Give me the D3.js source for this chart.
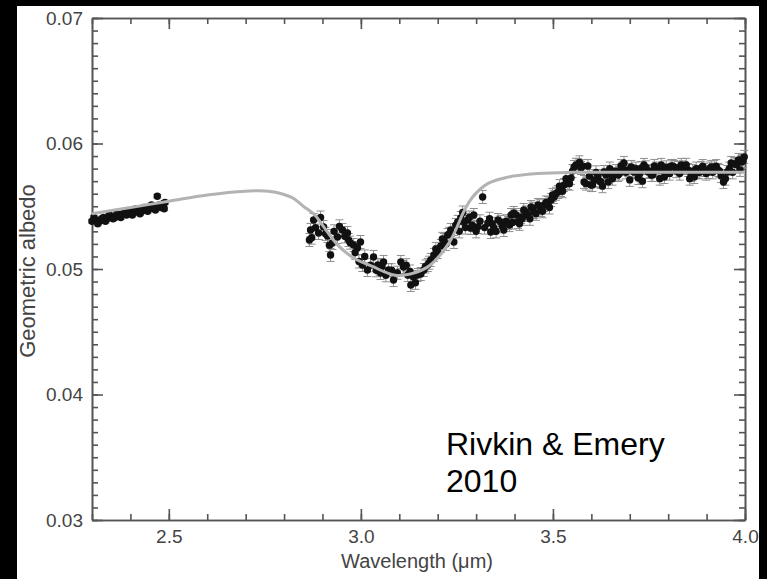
<!DOCTYPE html>
<html><head><meta charset="utf-8">
<script src="https://cdn.jsdelivr.net/npm/d3@7"></script>
<style>html,body{margin:0;padding:0;background:#000;} svg{display:block;}</style>
</head><body>
<svg id="c" width="767" height="579"></svg>
<script>
// ---------- data ----------
const xTickLabels = [2.5, 3.0, 3.5, 4.0];
const yTickLabels = [0.03, 0.04, 0.05, 0.06, 0.07];

// short-wavelength segment (2.3–2.5 µm)
const seg1Wave = [2.300,2.305,2.310,2.315,2.320,2.325,2.330,2.335,2.340,2.345,2.350,2.355,2.360,2.365,2.370,2.375,2.380,2.385,2.390,2.395,2.400,2.405,2.410,2.415,2.420,2.425,2.430,2.435,2.440,2.445,2.450,2.455,2.460,2.465,2.470,2.475,2.480,2.485,2.488,2.490];
const seg1Albedo = [0.0538,0.0541,0.0539,0.0536,0.0538,0.0540,0.0541,0.0538,0.0540,0.0543,0.0542,0.0540,0.0541,0.0544,0.0543,0.0541,0.0544,0.0546,0.0543,0.0545,0.0546,0.0543,0.0545,0.0548,0.0547,0.0544,0.0546,0.0549,0.0549,0.0546,0.0548,0.0551,0.0550,0.0547,0.0558,0.0551,0.0549,0.0552,0.0548,0.0553];
const seg1Err = 0.00015;

// long-wavelength segment (2.87–4.0 µm)
const seg2Wave = [2.866,2.869,2.872,2.877,2.882,2.890,2.895,2.903,2.908,2.913,2.918,2.921,2.926,2.930,2.939,2.944,2.952,2.958,2.965,2.968,2.972,2.981,2.985,2.991,2.995,2.999,3.004,3.010,3.017,3.025,3.033,3.040,3.044,3.051,3.055,3.059,3.065,3.072,3.080,3.085,3.095,3.104,3.111,3.118,3.122,3.128,3.130,3.137,3.142,3.148,3.156,3.164,3.168,3.174,3.178,3.182,3.190,3.195,3.200,3.208,3.212,3.216,3.222,3.226,3.230,3.234,3.242,3.247,3.252,3.256,3.260,3.265,3.268,3.272,3.278,3.282,3.286,3.290,3.294,3.300,3.304,3.310,3.317,3.322,3.331,3.335,3.338,3.342,3.346,3.352,3.357,3.364,3.368,3.372,3.378,3.383,3.387,3.391,3.395,3.398,3.404,3.409,3.413,3.417,3.420,3.424,3.430,3.435,3.440,3.443,3.447,3.451,3.456,3.461,3.465,3.469,3.473,3.477,3.482,3.487,3.491,3.495,3.499,3.503,3.508,3.513,3.517,3.521,3.525,3.529,3.534,3.539,3.543,3.547,3.551,3.555,3.560,3.565,3.569,3.573,3.578,3.581,3.586,3.591,3.595,3.599,3.603,3.607,3.612,3.617,3.621,3.625,3.629,3.633,3.638,3.644,3.648,3.651,3.655,3.659,3.664,3.670,3.673,3.677,3.681,3.685,3.690,3.696,3.700,3.704,3.707,3.711,3.716,3.722,3.726,3.730,3.733,3.737,3.742,3.748,3.752,3.756,3.760,3.764,3.769,3.774,3.778,3.782,3.786,3.790,3.795,3.800,3.804,3.808,3.812,3.816,3.821,3.826,3.830,3.834,3.838,3.842,3.847,3.852,3.856,3.860,3.864,3.868,3.873,3.878,3.882,3.886,3.890,3.894,3.899,3.904,3.908,3.912,3.916,3.920,3.925,3.930,3.934,3.938,3.944,3.949,3.954,3.959,3.964,3.968,3.972,3.978,3.983,3.987,3.991,3.995,3.998];
const seg2Albedo = [0.05231,0.05311,0.0525,0.05390,0.0533,0.05287,0.0541,0.05335,0.0528,0.05263,0.0519,0.05112,0.05207,0.0530,0.05255,0.0534,0.05311,0.0526,0.05287,0.05231,0.0521,0.05191,0.0513,0.05167,0.0506,0.05215,0.05032,0.0510,0.04992,0.0503,0.05096,0.0499,0.05032,0.04968,0.0502,0.05056,0.0495,0.04992,0.0499,0.04912,0.0497,0.05056,0.05016,0.0503,0.04952,0.0498,0.04873,0.04936,0.0489,0.04952,0.0496,0.04992,0.0502,0.05032,0.0505,0.05072,0.05112,0.0516,0.05135,0.05183,0.0524,0.05231,0.0520,0.05271,0.0528,0.05311,0.05215,0.0535,0.05375,0.0530,0.05406,0.0545,0.05375,0.0533,0.05390,0.0541,0.05327,0.0535,0.05430,0.0530,0.05335,0.0538,0.05574,0.0533,0.05367,0.0540,0.05295,0.0536,0.05327,0.0530,0.05390,0.05375,0.0534,0.05311,0.0538,0.05367,0.0535,0.05430,0.0537,0.05446,0.0543,0.05375,0.0536,0.05414,0.0540,0.05470,0.0545,0.05430,0.0540,0.05494,0.0548,0.05454,0.0544,0.05510,0.0550,0.05470,0.0546,0.05510,0.0553,0.05526,0.0549,0.05550,0.0559,0.05574,0.0560,0.05614,0.0566,0.05630,0.0562,0.05669,0.0572,0.05685,0.0568,0.05725,0.0578,0.05813,0.0583,0.05829,0.0585,0.05805,0.0582,0.05693,0.0568,0.05821,0.0574,0.05669,0.0567,0.05709,0.0577,0.05741,0.0570,0.05693,0.0566,0.05773,0.0575,0.05693,0.0580,0.05757,0.0572,0.05749,0.0578,0.05749,0.0576,0.05821,0.0580,0.05845,0.0577,0.05789,0.0571,0.05813,0.0578,0.05773,0.0580,0.05725,0.0576,0.05805,0.0570,0.05829,0.0581,0.05773,0.0578,0.05749,0.0575,0.05821,0.0580,0.05789,0.0572,0.05829,0.0578,0.05733,0.0581,0.05789,0.0576,0.05821,0.0582,0.05813,0.0578,0.05805,0.0576,0.05829,0.0581,0.05805,0.0583,0.05789,0.0572,0.05749,0.0578,0.05733,0.0580,0.05773,0.0577,0.05805,0.0582,0.05789,0.0576,0.05773,0.0580,0.05813,0.0577,0.05813,0.0582,0.05789,0.0578,0.05741,0.05693,0.0572,0.05773,0.0580,0.05845,0.0577,0.05837,0.0583,0.05869,0.0579,0.05853,0.0586,0.05893];
const seg2Err = 0.00052;

// model curve
const modelWave = [2.30,2.40,2.50,2.60,2.70,2.76,2.82,2.85,2.88,2.90,2.94,2.98,3.03,3.09,3.14,3.18,3.23,3.27,3.29,3.33,3.38,3.46,3.55,3.70,3.85,4.00];
const modelAlbedo = [0.0544,0.0549,0.0554,0.0559,0.0562,0.0562,0.0557,0.0550,0.0543,0.0535,0.0519,0.0509,0.0502,0.0495,0.0497,0.0503,0.0521,0.0547,0.0557,0.0568,0.0573,0.0576,0.0577,0.0577,0.0577,0.0577];

// ---------- drawing ----------
const svg = d3.select("#c");
const FONT = "'Liberation Sans', Arial, Helvetica, sans-serif";
svg.append("rect").attr("x",17).attr("y",6).attr("width",742).attr("height",573).attr("fill","#fff");

const x = d3.scaleLinear().domain([2.3, 4.0]).range([92, 745]);
const y = d3.scaleLinear().domain([0.03, 0.07]).range([520, 18]);

const xMinor = d3.range(23, 41).map(d => d / 10);
const yMinor = d3.range(30, 71).map(d => d / 1000);
const AX = "#555";

function styleAxis(g) {
  g.selectAll("path.domain").attr("stroke", AX).attr("stroke-width", 1.6);
  g.selectAll(".tick line").attr("stroke", AX).attr("stroke-width", 1.6);
  g.selectAll(".tick text").attr("fill", "#444").style("font-family", FONT).style("font-size", "19px");
}

// minor ticks
svg.append("g").attr("transform","translate(0,520)").call(d3.axisBottom(x).tickValues(xMinor).tickSize(-6).tickSizeOuter(0).tickFormat("")).call(styleAxis);
svg.append("g").attr("transform","translate(0,18)").call(d3.axisTop(x).tickValues(xMinor).tickSize(-6).tickSizeOuter(0).tickFormat("")).call(styleAxis);
svg.append("g").attr("transform","translate(92,0)").call(d3.axisLeft(y).tickValues(yMinor).tickSize(-6).tickSizeOuter(0).tickFormat("")).call(styleAxis);
svg.append("g").attr("transform","translate(745,0)").call(d3.axisRight(y).tickValues(yMinor).tickSize(-6).tickSizeOuter(0).tickFormat("")).call(styleAxis);

// major ticks
svg.append("g").attr("transform","translate(0,520)").call(d3.axisBottom(x).tickValues(xTickLabels).tickSize(-11).tickSizeOuter(0).tickPadding(10).tickFormat(d3.format(".1f"))).call(styleAxis);
svg.append("g").attr("transform","translate(0,18)").call(d3.axisTop(x).tickValues(xTickLabels).tickSize(-11).tickSizeOuter(0).tickFormat("")).call(styleAxis);
svg.append("g").attr("transform","translate(92,0)").call(d3.axisLeft(y).tickValues(yTickLabels).tickSize(-11).tickSizeOuter(0).tickPadding(9).tickFormat(d3.format(".2f"))).call(styleAxis);
svg.append("g").attr("transform","translate(745,0)").call(d3.axisRight(y).tickValues(yTickLabels).tickSize(-11).tickSizeOuter(0).tickFormat("")).call(styleAxis);

// data points with error bars
const pts = seg1Wave.map((w,i)=>({w, a: seg1Albedo[i], e: seg1Err}))
  .concat(seg2Wave.map((w,i)=>({w, a: seg2Albedo[i], e: seg2Err})));

const eb = svg.append("g").attr("stroke","#8f8f8f").attr("stroke-width",1);
eb.selectAll("line.v").data(pts).join("line").attr("class","v")
  .attr("x1",d=>x(d.w)).attr("x2",d=>x(d.w)).attr("y1",d=>y(d.a-d.e)).attr("y2",d=>y(d.a+d.e));
eb.selectAll("line.t").data(pts).join("line").attr("class","t")
  .attr("x1",d=>x(d.w)-4).attr("x2",d=>x(d.w)+4).attr("y1",d=>y(d.a+d.e)).attr("y2",d=>y(d.a+d.e));
eb.selectAll("line.b").data(pts).join("line").attr("class","b")
  .attr("x1",d=>x(d.w)-4).attr("x2",d=>x(d.w)+4).attr("y1",d=>y(d.a-d.e)).attr("y2",d=>y(d.a-d.e));

svg.append("g").selectAll("circle").data(pts).join("circle")
  .attr("cx",d=>x(d.w)).attr("cy",d=>y(d.a)).attr("r",3.7).attr("fill","#111");

// model curve
const model = modelWave.map((w,i)=>[w, modelAlbedo[i]]);
svg.append("path").datum(model)
  .attr("d", d3.line().x(d=>x(d[0])).y(d=>y(d[1])).curve(d3.curveCatmullRom.alpha(0.5)))
  .attr("fill","none").attr("stroke","#b3b3b3").attr("stroke-width",3);

// axis titles
svg.append("text").attr("x",417).attr("y",568).attr("text-anchor","middle")
  .attr("fill","#444").style("font-family",FONT).style("font-size","20px").text("Wavelength (μm)");
svg.append("text").attr("transform","translate(35,271) rotate(-90)").attr("text-anchor","middle")
  .attr("fill","#444").style("font-family",FONT).style("font-size","22px").text("Geometric albedo");

// annotation
svg.append("text").attr("x",446).attr("y",455).attr("fill","#000")
  .style("font-family",FONT).style("font-size","32px").text("Rivkin & Emery");
svg.append("text").attr("x",446).attr("y",492).attr("fill","#000")
  .style("font-family",FONT).style("font-size","32px").text("2010");
</script>
</body></html>
